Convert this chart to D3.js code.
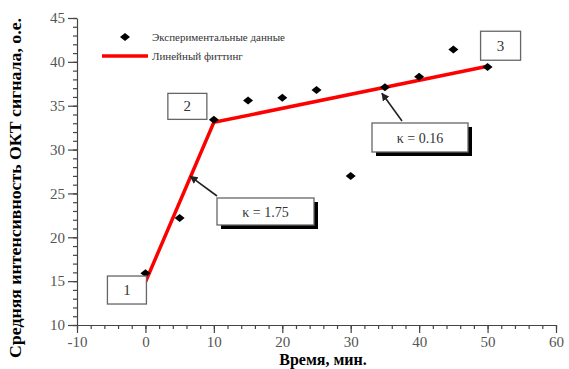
<!DOCTYPE html>
<html>
<head>
<meta charset="utf-8">
<script src="https://cdn.jsdelivr.net/npm/d3@7"></script>
<style>
  body { margin: 0; background: #fff; }
  svg text { font-family: "Times New Roman", "Liberation Serif", "DejaVu Serif", serif !important; }
</style>
</head>
<body>
<div id="chart"></div>
<script>
// experimental points
const timeVals = [0, 5, 10, 15, 20, 25, 30, 35, 40, 45, 50];
const signalVals = [15.9, 22.2, 33.4, 35.6, 35.9, 36.8, 27.0, 37.1, 38.3, 41.4, 39.4];

// piecewise linear fit
const fitTime = [0, 10, 50];
const fitVals = [14.9, 33.1, 39.5];

// labelled points 1,2,3
const markLabels = ["1", "2", "3"];
const kLabels = ["κ = 1.75", "κ = 0.16"];

const xTicks = [-10, 0, 10, 20, 30, 40, 50, 60];
const yTicks = [10, 15, 20, 25, 30, 35, 40, 45];

const W = 569, H = 369;
const svg = d3.select("#chart").append("svg")
    .attr("width", W).attr("height", H);

const x = d3.scaleLinear().domain([-10, 60]).range([77, 556]);
const y = d3.scaleLinear().domain([10, 45]).range([325, 18]);

// minor ticks
const xMinor = d3.range(-10, 60.1, 2);
const yMinor = d3.range(10, 45.1, 1);

svg.append("g")
    .attr("transform", "translate(0,325)")
    .call(d3.axisBottom(x).tickValues(xMinor).tickSize(4).tickFormat(""))
    .call(g => g.select(".domain").remove());
svg.append("g")
    .attr("transform", "translate(0,325)")
    .call(d3.axisBottom(x).tickValues(xTicks).tickSize(8).tickSizeOuter(0)
        .tickPadding(3).tickFormat(d => String(d)));

svg.append("g")
    .attr("transform", "translate(77,0)")
    .call(d3.axisLeft(y).tickValues(yMinor).tickSize(4).tickFormat(""))
    .call(g => g.select(".domain").remove());
svg.append("g")
    .attr("transform", "translate(77,0)")
    .call(d3.axisLeft(y).tickValues(yTicks).tickSize(9).tickSizeOuter(0).tickPadding(3));

svg.selectAll(".tick line").attr("stroke", "#444").attr("stroke-width", 1.2);
svg.selectAll(".domain").attr("stroke", "#444").attr("stroke-width", 1.2);
svg.selectAll(".tick text")
    .style("font-size", "15px")
    .attr("fill", "#555");

// axis titles
svg.append("text")
    .attr("x", 323).attr("y", 365)
    .attr("text-anchor", "middle")
    .style("font-size", "16px").style("font-weight", "bold")
    .text("Время, мин.");

svg.append("text")
    .attr("transform", "translate(21,188) rotate(-90)")
    .attr("text-anchor", "middle")
    .style("font-size", "16px").style("font-weight", "bold")
    .attr("textLength", 340).attr("lengthAdjust", "spacingAndGlyphs")
    .text("Средняя интенсивность ОКТ сигнала, о.е.");

// wide diamond symbol
const wideDiamond = {
  draw(ctx, size) {
    const a = Math.sqrt(size) / 2;
    ctx.moveTo(-a * 1.25, 0);
    ctx.lineTo(0, -a);
    ctx.lineTo(a * 1.25, 0);
    ctx.lineTo(0, a);
    ctx.closePath();
  }
};

// fit line
const line = d3.line().x(d => x(d[0])).y(d => y(d[1]));
svg.append("path")
    .datum(fitTime.map((t, i) => [t, fitVals[i]]))
    .attr("d", line)
    .attr("fill", "none")
    .attr("stroke", "#f00")
    .attr("stroke-width", 3.5);

// data points
svg.selectAll(".pt")
    .data(timeVals.map((t, i) => [t, signalVals[i]]))
    .enter().append("path")
    .attr("class", "pt")
    .attr("transform", d => "translate(" + x(d[0]) + "," + y(d[1]) + ")")
    .attr("d", d3.symbol().type(wideDiamond).size(64))
    .attr("fill", "#000");

// legend
svg.append("path")
    .attr("transform", "translate(125,37)")
    .attr("d", d3.symbol().type(wideDiamond).size(64))
    .attr("fill", "#000");
svg.append("text").attr("x", 152).attr("y", 41)
    .style("font-size", "11px").attr("fill", "#333")
    .text("Экспериментальные данные");
svg.append("line")
    .attr("x1", 102).attr("x2", 148).attr("y1", 56).attr("y2", 56)
    .attr("stroke", "#f00").attr("stroke-width", 3.5);
svg.append("text").attr("x", 152).attr("y", 60)
    .style("font-size", "11px").attr("fill", "#333")
    .text("Линейный фиттинг");

// numbered boxes near the fit nodes
const markBoxes = [
  { t: fitTime[0], v: fitVals[0], dx: -38, dy: -6, w: 39, h: 28 },
  { t: fitTime[1], v: fitVals[1], dx: -46, dy: -29, w: 39, h: 26 },
  { t: fitTime[2], v: fitVals[2], dx: -7, dy: -35, w: 40, h: 29 }
];
markBoxes.forEach((b, i) => {
  const bx = x(b.t) + b.dx, by = y(b.v) + b.dy;
  svg.append("rect").attr("x", bx).attr("y", by)
      .attr("width", b.w).attr("height", b.h)
      .attr("fill", "#fff").attr("stroke", "#666").attr("stroke-width", 1.3);
  svg.append("text").attr("x", bx + b.w / 2).attr("y", by + b.h / 2 + 5)
      .attr("text-anchor", "middle")
      .style("font-size", "15px").attr("fill", "#333")
      .text(markLabels[i]);
});

// slope annotations with arrows
const kBoxes = [
  { at: [7, fitVals[0] + 0.7 * 18.2], bx: 217, by: 198, w: 97, h: 27 },
  { at: [35, 37.1], bx: 372, by: 123, w: 96, h: 29 }
];
const defs = svg.append("defs");
defs.append("marker").attr("id", "arr")
    .attr("viewBox", "0 0 10 10").attr("refX", 9).attr("refY", 5)
    .attr("markerWidth", 5).attr("markerHeight", 5).attr("orient", "auto")
    .append("path").attr("d", "M0,0L10,5L0,10z").attr("fill", "#222");

kBoxes.forEach((b, i) => {
  const tx = x(b.at[0]) - 3, ty = y(b.at[1]) + 6;
  svg.append("line")
      .attr("x1", b.bx + (i === 0 ? 0 : 30)).attr("y1", b.by - 2)
      .attr("x2", tx).attr("y2", ty)
      .attr("stroke", "#222").attr("stroke-width", 1.6)
      .attr("marker-end", "url(#arr)");
  svg.append("rect").attr("x", b.bx + 4).attr("y", b.by + 4)
      .attr("width", b.w).attr("height", b.h).attr("fill", "#000");
  svg.append("rect").attr("x", b.bx).attr("y", b.by)
      .attr("width", b.w).attr("height", b.h)
      .attr("fill", "#fff").attr("stroke", "#666").attr("stroke-width", 1.3);
  svg.append("text").attr("x", b.bx + b.w / 2).attr("y", b.by + b.h / 2 + 5)
      .attr("text-anchor", "middle")
      .style("font-size", "14px").attr("fill", "#333")
      .text(kLabels[i]);
});
</script>
</body>
</html>
